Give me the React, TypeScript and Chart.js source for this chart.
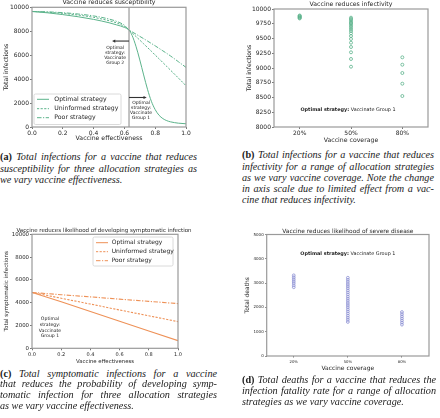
import React, { useEffect, useRef } from 'react';
import { Chart, registerables } from 'chart.js';

Chart.register(...registerables);

const FONT = "'DejaVu Sans', sans-serif";
const INK = '#262626';
const FRAME = '#9a9a9a';
const TICK = '#555555';
const GREEN = '#5cb38b';
const ORANGE = '#ee9157';
const PURPLE = '#8b8fd3';

Chart.defaults.font.family = FONT;

// ---------- (a) Vaccine reduces susceptibility ----------
const effectivenessA = [0, 0.1, 0.2, 0.3, 0.4, 0.5, 0.55, 0.6, 0.63, 0.65, 0.675, 0.7, 0.725, 0.75, 0.775, 0.8, 0.825, 0.85, 0.875, 0.9, 0.95, 1.0];
const optimalA = [9650, 9540, 9390, 9210, 8990, 8710, 8530, 8320, 8100, 7650, 6750, 5600, 4350, 3150, 2150, 1450, 980, 700, 530, 430, 320, 270];
const uninformedA = [9650, 9590, 9490, 9350, 9160, 8880, 8690, 8400, 8100, 7860, 7560, 7260, 6950, 6640, 6330, 6010, 5700, 5380, 5060, 4740, 4100, 3450];
const poorA = [9650, 9620, 9550, 9440, 9280, 9020, 8820, 8500, 8100, 7950, 7760, 7570, 7380, 7180, 6980, 6780, 6570, 6360, 6150, 5930, 5460, 4980];
const crossoverA = 0.63;

// ---------- (b) Vaccine reduces infectivity ----------
const coverageLabels = ['20%', '50%', '80%'];
const infections20 = [9890, 9880, 9870, 9860, 9850, 9840];
const infections50 = [9853, 9831, 9808, 9785, 9763, 9741, 9717, 9690, 9661, 9627, 9588, 9542, 9492, 9429, 9356, 9266, 9153, 9022];
const infections80 = [9181, 9056, 8915, 8734, 8525];

// ---------- (c) Vaccine reduces likelihood of developing symptomatic infection ----------
const effectivenessC = [0, 0.2, 0.4, 0.6, 0.8, 1.0];
const optimalC = [4900, 4080, 3230, 2380, 1520, 670];
const uninformedC = [4900, 4390, 3880, 3360, 2850, 2340];
const poorC = [4900, 4700, 4510, 4310, 4120, 3920];

// ---------- (d) Vaccine reduces likelihood of severe disease ----------
const deaths20 = [3320, 3240, 3160, 3080, 3000, 2910, 2830];
const deaths50 = [3220, 3135, 3050, 2960, 2875, 2790, 2700, 2615, 2530, 2440, 2355, 2270, 2180, 2095, 2010, 1920, 1835, 1750, 1660, 1575, 1490, 1400];
const deaths80 = [1810, 1720, 1630, 1545, 1460, 1375, 1290];

const strategyNames = ['Optimal strategy', 'Uninformed strategy', 'Poor strategy'];
const strategyDashes = [[], [2.2, 1.4], [4.5, 1.5, 1.2, 1.5]];

// ---------- helpers ----------
const font = (size: number, weight = 'normal') => ({ size, family: FONT, weight });

const tickGrid = (len: number) => ({
  display: true,
  drawOnChartArea: false,
  drawTicks: true,
  tickLength: len,
  tickColor: TICK,
  tickWidth: 0.8,
  offset: false,
});

const overlay = (id: string, draw: (chart: any) => void) => ({
  id,
  afterDraw(chart: any) {
    const ctx = chart.ctx;
    ctx.save();
    draw(chart);
    ctx.restore();
  },
});

function drawFrame(chart: any) {
  const { ctx, chartArea: a } = chart;
  ctx.strokeStyle = FRAME;
  ctx.lineWidth = 1.2;
  ctx.strokeRect(a.left, a.top, a.right - a.left, a.bottom - a.top);
}

function drawTitle(chart: any, text: string, size: number, y: number, dx = 0) {
  const { ctx, chartArea: a } = chart;
  ctx.font = `${size}px ${FONT}`;
  ctx.fillStyle = INK;
  ctx.textAlign = 'center';
  ctx.textBaseline = 'middle';
  ctx.fillText(text, (a.left + a.right) / 2 + dx, y);
}

function drawLines(chart: any, lines: string[], cx: number, y0: number, step: number, size: number) {
  const { ctx } = chart;
  ctx.font = `${size}px ${FONT}`;
  ctx.fillStyle = '#1a1a1a';
  ctx.textAlign = 'center';
  ctx.textBaseline = 'middle';
  lines.forEach((l, i) => ctx.fillText(l, cx, y0 + i * step));
}

function drawArrow(chart: any, x0: number, x1: number, y: number) {
  const { ctx } = chart;
  const dir = Math.sign(x1 - x0);
  ctx.strokeStyle = '#333';
  ctx.fillStyle = '#333';
  ctx.lineWidth = 1.1;
  ctx.beginPath();
  ctx.moveTo(x0, y);
  ctx.lineTo(x1 - dir * 2, y);
  ctx.stroke();
  ctx.beginPath();
  ctx.moveTo(x1, y);
  ctx.lineTo(x1 - dir * 3.2, y - 1.6);
  ctx.lineTo(x1 - dir * 3.2, y + 1.6);
  ctx.closePath();
  ctx.fill();
}

function drawBoldLead(chart: any, bold: string, rest: string, cx: number, y: number, size: number) {
  const { ctx } = chart;
  ctx.textBaseline = 'middle';
  ctx.textAlign = 'left';
  ctx.fillStyle = '#1a1a1a';
  ctx.font = `bold ${size}px ${FONT}`;
  const w1 = ctx.measureText(bold).width;
  ctx.font = `${size}px ${FONT}`;
  const w2 = ctx.measureText(rest).width;
  const x = cx - (w1 + w2) / 2;
  ctx.font = `bold ${size}px ${FONT}`;
  ctx.fillText(bold, x, y);
  ctx.font = `${size}px ${FONT}`;
  ctx.fillText(rest, x + w1, y);
}

function drawLegend(
  chart: any,
  box: { x: number; y: number; w: number; h: number },
  rowsY: number[],
  sampleX0: number,
  sampleX1: number,
  textX: number,
  size: number,
) {
  const { ctx } = chart;
  ctx.fillStyle = 'rgba(255,255,255,0.85)';
  ctx.strokeStyle = '#d0d0d0';
  ctx.lineWidth = 0.8;
  ctx.beginPath();
  ctx.roundRect(box.x, box.y, box.w, box.h, 1.5);
  ctx.fill();
  ctx.stroke();
  chart.data.datasets.forEach((ds: any, i: number) => {
    const y = rowsY[i];
    ctx.strokeStyle = ds.borderColor;
    ctx.lineWidth = 1;
    ctx.setLineDash(ds.borderDash || []);
    ctx.beginPath();
    ctx.moveTo(sampleX0, y);
    ctx.lineTo(sampleX1, y);
    ctx.stroke();
    ctx.setLineDash([]);
    ctx.font = `${size}px ${FONT}`;
    ctx.fillStyle = INK;
    ctx.textAlign = 'left';
    ctx.textBaseline = 'middle';
    ctx.fillText(ds.label, textX, y);
  });
}

const baseOptions = {
  responsive: false,
  animation: false as const,
  devicePixelRatio: 1,
  events: [] as any[],
};

// ---------- configs ----------
function configA(): any {
  const series = [optimalA, uninformedA, poorA];
  return {
    type: 'line',
    data: {
      datasets: strategyNames.map((name, i) => ({
        label: name,
        data: effectivenessA.map((x, j) => ({ x, y: series[i][j] })),
        borderColor: GREEN,
        borderWidth: 1,
        borderDash: strategyDashes[i],
        pointRadius: 0,
        cubicInterpolationMode: 'monotone',
        fill: false,
      })),
    },
    options: {
      ...baseOptions,
      layout: { padding: { left: 2.3, right: 14, top: 7.3, bottom: 4.3 } },
      plugins: { legend: { display: false }, tooltip: { enabled: false } },
      scales: {
        x: {
          type: 'linear', min: 0, max: 1,
          border: { display: false },
          grid: tickGrid(2),
          ticks: { stepSize: 0.2, callback: (v: any) => Number(v).toFixed(1), font: font(6), color: INK, padding: 1, maxRotation: 0, autoSkip: false },
          title: { display: true, text: 'Vaccine effectiveness', font: font(6.2), color: INK, padding: 0 },
          afterFit: (s: any) => { s.height = 14.7; },
        },
        y: {
          min: 0, max: 10000,
          border: { display: false },
          grid: tickGrid(2),
          ticks: { stepSize: 2000, callback: (v: any) => String(v), font: font(6), color: INK, padding: 1 },
          title: { display: true, text: 'Total infections', font: font(6.2), color: INK, padding: 0 },
          afterFit: (s: any) => { s.width = 29.7; },
        },
      },
    },
    plugins: [
      overlay('decorA', (chart) => {
        const { chartArea: a, scales } = chart;
        const xs = scales.x, ys = scales.y;
        drawFrame(chart);
        drawTitle(chart, 'Vaccine reduces susceptibility', 6.2, 2.8);
        const vx = xs.getPixelForValue(crossoverA);
        chart.ctx.strokeStyle = '#999';
        chart.ctx.lineWidth = 1.2;
        chart.ctx.beginPath();
        chart.ctx.moveTo(vx, a.top);
        chart.ctx.lineTo(vx, a.bottom);
        chart.ctx.stroke();
        const y1 = ys.getPixelForValue(7180);
        drawArrow(chart, vx, xs.getPixelForValue(0.52), y1);
        drawLines(chart, ['Optimal', 'strategy:', 'Vaccinate', 'Group 2'], xs.getPixelForValue(0.54), y1 + 6.6, 5, 4.5);
        const y2 = ys.getPixelForValue(2465);
        drawArrow(chart, vx, xs.getPixelForValue(0.745), y2);
        drawLines(chart, ['Optimal', 'strategy:', 'Vaccinate', 'Group 1'], xs.getPixelForValue(0.708), y2 + 5.8, 5, 4.5);
        drawLegend(chart, { x: a.left + 2, y: a.bottom - 33, w: 87, h: 30.5 }, [a.bottom - 27.7, a.bottom - 18.3, a.bottom - 9.3], a.left + 5, a.left + 17, a.left + 22.3, 6.2);
      }),
    ],
  };
}

function scatterDatasets(groups: number[][], color: string, radius: number) {
  return groups.map((vals, gi) => ({
    label: coverageLabels[gi],
    data: vals.map((y) => ({ x: coverageLabels[gi], y })),
    pointStyle: 'circle',
    pointRadius: radius,
    pointBorderWidth: 0.8,
    pointBorderColor: color,
    pointBackgroundColor: 'rgba(0,0,0,0)',
    borderColor: color,
    backgroundColor: 'rgba(0,0,0,0)',
    showLine: false,
  }));
}

function configB(): any {
  return {
    type: 'scatter',
    data: { labels: coverageLabels, datasets: scatterDatasets([infections20, infections50, infections80], GREEN, 1.5) },
    options: {
      ...baseOptions,
      layout: { padding: { left: 25.6, right: 12, top: 9, bottom: 2.3 } },
      plugins: { legend: { display: false }, tooltip: { enabled: false } },
      scales: {
        x: {
          type: 'category', labels: coverageLabels, offset: true,
          border: { display: false },
          grid: tickGrid(2),
          ticks: { font: font(6), color: INK, padding: 1, maxRotation: 0, autoSkip: false },
          title: { display: true, text: 'Vaccine coverage', font: font(6.2), color: INK, padding: 0 },
          afterFit: (s: any) => { s.height = 16.7; },
        },
        y: {
          type: 'linear', min: 8000, max: 10000,
          border: { display: false },
          grid: tickGrid(2),
          ticks: { stepSize: 250, callback: (v: any) => String(v), font: font(6), color: INK, padding: 1 },
          title: { display: true, text: 'Total infections', font: font(6.2), color: INK, padding: 0 },
          afterFit: (s: any) => { s.width = 28.4; },
        },
      },
    },
    plugins: [
      overlay('decorB', (chart) => {
        const { chartArea: a, scales } = chart;
        drawFrame(chart);
        drawTitle(chart, 'Vaccine reduces infectivity', 6.2, 4.6);
        drawBoldLead(chart, 'Optimal strategy:', ' Vaccinate Group 1', (a.left + a.right) / 2 - 3, scales.y.getPixelForValue(8290), 4.9);
      }),
    ],
  };
}

function configC(): any {
  const series = [optimalC, uninformedC, poorC];
  return {
    type: 'line',
    data: {
      datasets: strategyNames.map((name, i) => ({
        label: name,
        data: effectivenessC.map((x, j) => ({ x, y: series[i][j] })),
        borderColor: ORANGE,
        borderWidth: 1.1,
        borderDash: strategyDashes[i],
        pointRadius: 0,
        fill: false,
      })),
    },
    options: {
      ...baseOptions,
      layout: { padding: { left: 3.3, right: 22, top: 14.3, bottom: 1.6 } },
      plugins: { legend: { display: false }, tooltip: { enabled: false } },
      scales: {
        x: {
          type: 'linear', min: 0, max: 1,
          border: { display: false },
          grid: tickGrid(2),
          ticks: { stepSize: 0.2, callback: (v: any) => Number(v).toFixed(1), font: font(5), color: INK, padding: 1, maxRotation: 0, autoSkip: false },
          title: { display: true, text: 'Vaccine effectiveness', font: font(5.4), color: INK, padding: 0 },
          afterFit: (s: any) => { s.height = 16.1; },
        },
        y: {
          min: 0, max: 10000,
          border: { display: false },
          grid: tickGrid(2),
          ticks: { stepSize: 2000, callback: (v: any) => String(v), font: font(5.4), color: INK, padding: 1 },
          title: { display: true, text: 'Total symptomatic infections', font: font(5.6), color: INK, padding: 0 },
          afterFit: (s: any) => { s.width = 28.7; },
        },
      },
    },
    plugins: [
      overlay('decorC', (chart) => {
        const { chartArea: a, scales } = chart;
        drawFrame(chart);
        drawTitle(chart, 'Vaccine reduces likelihood of developing symptomatic infection', 5.5, 10.7, -1);
        drawLines(chart, ['Optimal', 'strategy:', 'Vaccinate', 'Group 1'], scales.x.getPixelForValue(0.123), scales.y.getPixelForValue(2570), 5.7, 4.6);
        drawLegend(chart, { x: a.right - 85, y: a.top + 2.7, w: 80, h: 29 }, [a.top + 8.4, a.top + 17.4, a.top + 26.4], a.right - 82, a.right - 70, a.right - 66.3, 6);
      }),
    ],
  };
}

function configD(): any {
  return {
    type: 'scatter',
    data: { labels: coverageLabels, datasets: scatterDatasets([deaths20, deaths50, deaths80], PURPLE, 1.4) },
    options: {
      ...baseOptions,
      layout: { padding: { left: 24.1, right: 11, top: 14.5, bottom: 2.7 } },
      plugins: { legend: { display: false }, tooltip: { enabled: false } },
      scales: {
        x: {
          type: 'category', labels: coverageLabels, offset: true,
          border: { display: false },
          grid: tickGrid(1.5),
          ticks: { font: font(3.8), color: INK, padding: 2, maxRotation: 0, autoSkip: false },
          title: { display: true, text: 'Vaccine coverage', font: font(6), color: INK, padding: 0 },
          afterFit: (s: any) => { s.height = 16.3; },
        },
        y: {
          type: 'linear', min: 0, max: 5000,
          border: { display: false },
          grid: tickGrid(1.5),
          ticks: { stepSize: 1000, callback: (v: any) => String(v), font: font(4), color: INK, padding: 1.5 },
          title: { display: true, text: 'Total deaths', font: font(6), color: INK, padding: 0 },
          afterFit: (s: any) => { s.width = 22.6; },
        },
      },
    },
    plugins: [
      overlay('decorD', (chart) => {
        const { chartArea: a, scales } = chart;
        drawFrame(chart);
        drawTitle(chart, 'Vaccine reduces likelihood of severe disease', 5.9, 11);
        drawBoldLead(chart, 'Optimal strategy:', ' Vaccinate Group 1', (a.left + a.right) / 2, scales.y.getPixelForValue(4200), 4.9);
      }),
    ],
  };
}

// ---------- components ----------
function ChartPanel({ left, top, width, height, make }: { left: number; top: number; width: number; height: number; make: () => any }) {
  const ref = useRef<HTMLCanvasElement>(null);
  useEffect(() => {
    const chart = new Chart(ref.current as HTMLCanvasElement, make());
    return () => chart.destroy();
  }, []);
  return (
    <canvas
      ref={ref}
      width={width}
      height={height}
      style={{ position: 'absolute', left, top, width, height, display: 'block' }}
    />
  );
}

function Caption({ left, width, top, lineHeight, tag, lines }: { left: number; width: number; top: number; lineHeight: number; tag: string; lines: string[] }) {
  return (
    <>
      {lines.map((line, i) => (
        <div
          key={i}
          style={{
            position: 'absolute',
            left,
            top: top + i * lineHeight - lineHeight / 2,
            width,
            height: lineHeight,
            lineHeight: `${lineHeight}px`,
            textAlign: 'justify',
            textAlignLast: i < lines.length - 1 ? 'justify' : 'left',
            fontFamily: "'Liberation Serif', serif",
            fontStyle: 'italic',
            fontSize: 10.2,
            color: '#1a1a1a',
          } as any}
        >
          {i === 0 && <b style={{ fontStyle: 'normal' }}>{tag} </b>}
          {line}
        </div>
      ))}
    </>
  );
}

export default function App() {
  useEffect(() => {
    document.body.style.margin = '0';
  }, []);
  return (
    <div style={{ position: 'fixed', left: 0, top: 0, width: 440, height: 418, background: '#fff', overflow: 'hidden' }}>
      <ChartPanel left={0} top={0} width={200} height={146} make={configA} />
      <ChartPanel left={220} top={0} width={220} height={146} make={configB} />
      <ChartPanel left={0} top={220} width={200} height={146} make={configC} />
      <ChartPanel left={220} top={220} width={220} height={155} make={configD} />
      <Caption
        left={0} width={197} top={157} lineHeight={11.3} tag="(a)"
        lines={['Total infections for a vaccine that reduces', 'susceptibility for three allocation strategies as', 'we vary vaccine effectiveness.']}
      />
      <Caption
        left={242} width={192} top={155} lineHeight={11.1} tag="(b)"
        lines={['Total infections for a vaccine that reduces', 'infectivity for a range of allocation strategies', 'as we vary vaccine coverage. Note the change', 'in axis scale due to limited effect from a vac-', 'cine that reduces infectivity.']}
      />
      <Caption
        left={0} width={217} top={374} lineHeight={10.8} tag="(c)"
        lines={['Total symptomatic infections for a vaccine', 'that reduces the probability of developing symp-', 'tomatic infection for three allocation strategies', 'as we vary vaccine effectiveness.']}
      />
      <Caption
        left={242} width={194} top={379} lineHeight={11} tag="(d)"
        lines={['Total deaths for a vaccine that reduces the', 'infection fatality rate for a range of allocation', 'strategies as we vary vaccine coverage.']}
      />
    </div>
  );
}
